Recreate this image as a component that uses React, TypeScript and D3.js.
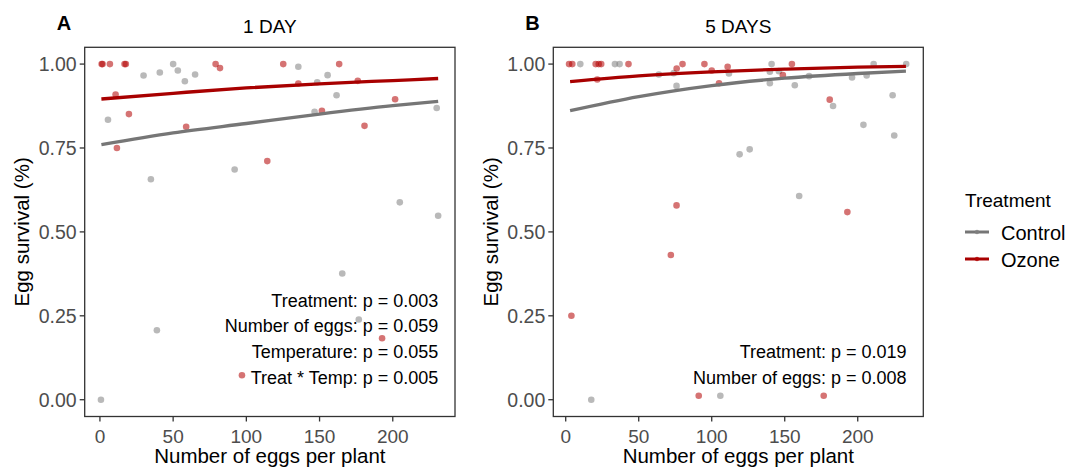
import React from "react";
import * as d3 from "d3";

// ---------- DATA ----------
const yTicks = [0, 0.25, 0.5, 0.75, 1];
const xTicks = [0, 50, 100, 150, 200];

// Panel A (1 DAY)
const day1ControlEggs = [50, 29.8, 40.9, 53.2, 58, 65, 135.5, 155.5, 148.4, 161.6, 230, 146.6, 5.5, 34.8, 92, 204.8, 231, 165.5, 176.8, 38.9, 0.7];
const day1ControlSurv = [1.0, 0.966, 0.975, 0.981, 0.949, 0.969, 0.992, 0.967, 0.946, 0.907, 0.869, 0.858, 0.834, 0.657, 0.686, 0.588, 0.548, 0.376, 0.239, 0.207, 0.0];
const day1OzoneEggs = [1.2, 1.8, 6.8, 16.8, 17.7, 79, 82, 10.7, 19.8, 58.9, 11.6, 114.3, 125.2, 163.4, 135.5, 176.1, 201.6, 151.6, 180.7, 192.7, 97];
const day1OzoneSurv = [1.0, 1.0, 1.0, 1.0, 1.0, 1.0, 0.988, 0.909, 0.851, 0.813, 0.75, 0.711, 1.0, 1.0, 0.942, 0.95, 0.895, 0.861, 0.816, 0.183, 0.073];
const day1FitEggs = [1, 50, 100, 150, 200, 231];
const day1ControlFit = [0.760, 0.795, 0.823, 0.851, 0.876, 0.889];
const day1OzoneFit = [0.896, 0.913, 0.929, 0.941, 0.951, 0.957];
const day1Notes = ["Treatment: p = 0.003", "Number of eggs: p = 0.059", "Temperature: p = 0.055", "Treat * Temp: p = 0.005"];

// Panel B (5 DAYS)
const day5ControlEggs = [10, 33.7, 36.9, 63.8, 74, 75.9, 111.8, 141, 139.8, 146, 139.8, 156.9, 166.7, 196.1, 206.1, 210.9, 233.2, 183.1, 223.9, 203.9, 225, 126, 119.1, 159.9, 17.5, 105.9];
const day5ControlSurv = [1, 1, 1, 0.969, 0.973, 0.935, 0.972, 1, 0.977, 0.979, 0.943, 0.937, 0.964, 0.96, 0.966, 1, 1, 0.875, 0.907, 0.819, 0.787, 0.746, 0.731, 0.607, 0.0, 0.012];
const day5OzoneEggs = [2.3, 4.5, 20.5, 22.6, 24.3, 43, 21.6, 76, 80, 95, 100, 110.9, 105, 154.9, 148.7, 180.8, 192.9, 75.9, 72, 3.9, 91.1, 176.7];
const day5OzoneSurv = [1, 1, 1, 1, 1, 1, 0.954, 0.987, 1, 1, 0.981, 0.992, 0.943, 1, 0.967, 0.894, 0.559, 0.579, 0.431, 0.25, 0.012, 0.012];
const day5FitEggs = [3, 50, 100, 150, 200, 233];
const day5ControlFit = [0.861, 0.903, 0.936, 0.958, 0.972, 0.979];
const day5OzoneFit = [0.948, 0.965, 0.977, 0.985, 0.991, 0.993];
const day5Notes = ["Treatment: p = 0.019", "Number of eggs: p = 0.008"];

const legendTitle = "Treatment";
const groups = ["Control", "Ozone"];

// ---------- STYLE ----------
const FONT = "'Liberation Sans', Arial, Helvetica, sans-serif";
const lineColors: Record<string, string> = { Control: "#767676", Ozone: "#a80000" };
const pointColors: Record<string, string> = { Control: "#7f7f7f", Ozone: "#b30000" };
const AXIS = "#333333";
const TICKTXT = "#4d4d4d";

const TOP = 47.3;
const BOTTOM = 416.5;

type PanelProps = {
  letter: string;
  title: string;
  left: number;
  right: number;
  xDomain: [number, number];
  cEggs: number[];
  cSurv: number[];
  oEggs: number[];
  oSurv: number[];
  fitEggs: number[];
  cFit: number[];
  oFit: number[];
  notes: string[];
};

function Panel(p: PanelProps) {
  const x = d3.scaleLinear().domain(p.xDomain).range([p.left, p.right]);
  const y = d3.scaleLinear().domain([-0.05, 1.05]).range([BOTTOM, TOP]);
  const line = d3
    .line<[number, number]>()
    .x((d) => x(d[0]))
    .y((d) => y(d[1]))
    .curve(d3.curveMonotoneX);
  const cx = (p.left + p.right) / 2;
  const cy = (TOP + BOTTOM) / 2;
  const notesBottom = 384;
  const noteRight = p.right - 16.7;
  return (
    <g>
      <text x={p.left - 28} y={30} fontFamily={FONT} fontWeight="bold" fontSize={20} fill="#000">
        {p.letter}
      </text>
      <text x={cx} y={33} textAnchor="middle" fontFamily={FONT} fontSize={19} fill="#000">
        {p.title}
      </text>
      {/* points */}
      {p.cEggs.map((e, i) => (
        <circle key={"c" + i} cx={x(e)} cy={y(p.cSurv[i])} r={3.3} fill={pointColors.Control} fillOpacity={0.55} />
      ))}
      {p.oEggs.map((e, i) => (
        <circle key={"o" + i} cx={x(e)} cy={y(p.oSurv[i])} r={3.3} fill={pointColors.Ozone} fillOpacity={0.55} />
      ))}
      {/* fit lines */}
      <path d={line(p.fitEggs.map((e, i) => [e, p.cFit[i]] as [number, number])) || ""} fill="none" stroke={lineColors.Control} strokeWidth={3.3} />
      <path d={line(p.fitEggs.map((e, i) => [e, p.oFit[i]] as [number, number])) || ""} fill="none" stroke={lineColors.Ozone} strokeWidth={3.3} />
      {/* notes */}
      {p.notes.map((n, i) => (
        <text key={n} x={noteRight} y={notesBottom - (p.notes.length - 1 - i) * 25.8} textAnchor="end" fontFamily={FONT} fontSize={18} fill="#000">
          {n}
        </text>
      ))}
      {/* border */}
      <rect x={p.left} y={TOP} width={p.right - p.left} height={BOTTOM - TOP} fill="none" stroke={AXIS} strokeWidth={1.3} />
      {/* y axis */}
      {yTicks.map((t) => (
        <g key={"y" + t}>
          <line x1={p.left - 5} x2={p.left} y1={y(t)} y2={y(t)} stroke={AXIS} strokeWidth={1.3} />
          <text x={p.left - 8} y={y(t)} dy="0.35em" textAnchor="end" fontFamily={FONT} fontSize={19.5} fill={TICKTXT}>
            {t.toFixed(2)}
          </text>
        </g>
      ))}
      {/* x axis */}
      {xTicks.map((t) => (
        <g key={"x" + t}>
          <line x1={x(t)} x2={x(t)} y1={BOTTOM} y2={BOTTOM + 5} stroke={AXIS} strokeWidth={1.3} />
          <text x={x(t)} y={443} textAnchor="middle" fontFamily={FONT} fontSize={19} fill={TICKTXT}>
            {t}
          </text>
        </g>
      ))}
      <text x={cx} y={463} textAnchor="middle" fontFamily={FONT} fontSize={20.5} fill="#000">
        Number of eggs per plant
      </text>
      <text transform={`translate(${p.left - 55.5},${cy}) rotate(-90)`} textAnchor="middle" fontFamily={FONT} fontSize={20.5} fill="#000">
        Egg survival (%)
      </text>
    </g>
  );
}

export default function App() {
  return (
    <svg width={1083} height={468} style={{ display: "block", position: "absolute", left: 0, top: 0, background: "#fff" }}>
      <rect x={0} y={0} width={1083} height={468} fill="#fff" />
      <Panel
        letter="A"
        title="1 DAY"
        left={84.7}
        right={455}
        xDomain={[-10.4, 242.5]}
        cEggs={day1ControlEggs}
        cSurv={day1ControlSurv}
        oEggs={day1OzoneEggs}
        oSurv={day1OzoneSurv}
        fitEggs={day1FitEggs}
        cFit={day1ControlFit}
        oFit={day1OzoneFit}
        notes={day1Notes}
      />
      <Panel
        letter="B"
        title="5 DAYS"
        left={553.3}
        right={923.3}
        xDomain={[-8.5, 244.9]}
        cEggs={day5ControlEggs}
        cSurv={day5ControlSurv}
        oEggs={day5OzoneEggs}
        oSurv={day5OzoneSurv}
        fitEggs={day5FitEggs}
        cFit={day5ControlFit}
        oFit={day5OzoneFit}
        notes={day5Notes}
      />
      {/* legend */}
      <text x={965} y={207} fontFamily={FONT} fontSize={19} fill="#000">
        {legendTitle}
      </text>
      {groups.map((g, i) => {
        const ly = 232 + i * 27;
        return (
          <g key={g}>
            <line x1={965} x2={989} y1={ly} y2={ly} stroke={lineColors[g]} strokeWidth={3} />
            <circle cx={977} cy={ly} r={2.2} fill={pointColors[g]} fillOpacity={0.8} />
            <text x={1001} y={ly + 7.5} fontFamily={FONT} fontSize={20} fill="#000">
              {g}
            </text>
          </g>
        );
      })}
    </svg>
  );
}
